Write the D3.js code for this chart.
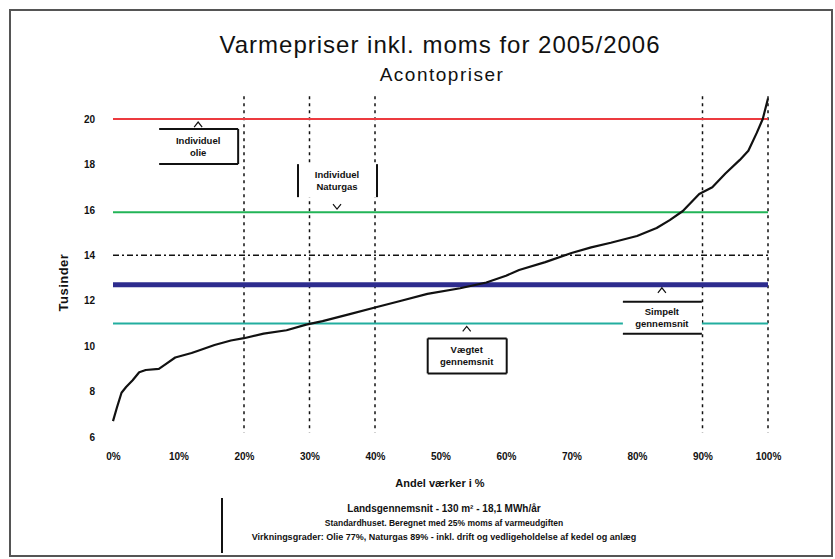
<!DOCTYPE html>
<html>
<head>
<meta charset="utf-8">
<script src="https://cdn.jsdelivr.net/npm/d3@7"></script>
<style>
  body { margin: 0; background: #fff; }
  text { font-family: "Liberation Sans", Arial, sans-serif; fill: #111; }
</style>
</head>
<body>
<script>
// Step 1: chart data
//= ================================
// share of plants (%) and price in thousand kr
var sharePct = [0, 0.6, 1.3, 2, 3, 4, 5, 7, 8, 9.5, 12, 13, 15.5, 18, 20, 23, 26.5, 29.5,
  32, 36, 40, 44, 48, 53, 57, 60, 62, 66, 70, 73, 76, 80, 83, 85, 87, 89.5, 91.5,
  93.5, 95.7, 97, 98.3, 99.2, 100];
var priceK = [6.7, 7.3, 7.95, 8.2, 8.5, 8.85, 8.95, 9.0, 9.2, 9.5, 9.7, 9.8, 10.05, 10.25,
  10.35, 10.55, 10.7, 10.95, 11.1, 11.4, 11.7, 12.0, 12.3, 12.55, 12.8, 13.1, 13.35,
  13.7, 14.1, 14.35, 14.55, 14.85, 15.2, 15.55, 15.95, 16.7, 17.0, 17.6, 18.2, 18.6,
  19.4, 20.0, 20.9];

var yTicks = [6, 8, 10, 12, 14, 16, 18, 20];
var xTicks = [0, 10, 20, 30, 40, 50, 60, 70, 80, 90, 100];
var markerPcts = [20, 30, 40, 90, 100];

var refNames = ["Individuel olie", "Individuel Naturgas", "Simpelt gennemsnit", "Vægtet gennemsnit"];
var refValues = [20.0, 15.9, 12.7, 11.0];
var refColors = ["#ec3a3f", "#22b457", "#2d2c8e", "#22ae9f"];
var refWidths = [2, 2, 5, 2];
var refLabelPct = [13, 34.2, 83.8, 54];
var dashDotValue = 14;

var footerLines = [
  "Landsgennemsnit - 130 m² - 18,1 MWh/år",
  "Standardhuset. Beregnet med 25% moms af varmeudgiften",
  "Virkningsgrader: Olie 77%, Naturgas 89% - inkl. drift og vedligeholdelse af kedel og anlæg"
];

// Step 2: svg + scales
//= ================================
var svgWidth = 835;
var svgHeight = 559;

var svg = d3.select("body")
  .append("svg")
  .attr("width", svgWidth)
  .attr("height", svgHeight);

// outer frame
svg.append("rect")
  .attr("x", 10).attr("y", 10)
  .attr("width", 822).attr("height", 546)
  .attr("fill", "none")
  .attr("stroke", "#555")
  .attr("stroke-width", 2);

var xScale = d3.scaleLinear().domain([0, 100]).range([113, 768]);
var yScale = d3.scaleLinear().domain([6, 21]).range([437, 96.3]);

// Step 3: titles
//= ================================
svg.append("text")
  .attr("x", 440).attr("y", 53)
  .attr("text-anchor", "middle")
  .style("font-size", "24px")
  .style("letter-spacing", "1px")
  .text("Varmepriser inkl. moms for 2005/2006");

svg.append("text")
  .attr("x", 442).attr("y", 81)
  .attr("text-anchor", "middle")
  .style("font-size", "19px")
  .style("letter-spacing", "1.5px")
  .text("Acontopriser");

// Step 4: axes (labels only)
//= ================================
var yAxis = d3.axisLeft(yScale).tickValues(yTicks).tickSize(0).tickPadding(0);
svg.append("g")
  .attr("transform", "translate(95,0)")
  .call(yAxis)
  .call(g => g.select(".domain").remove())
  .selectAll("text")
  .style("font-family", "Liberation Sans, Arial, sans-serif")
  .style("font-size", "10px")
  .style("font-weight", "bold")
  .attr("fill", "#111");

var xAxis = d3.axisBottom(xScale).tickValues(xTicks).tickSize(0).tickPadding(0)
  .tickFormat(d => d + "%");
svg.append("g")
  .attr("transform", "translate(0,453)")
  .call(xAxis)
  .call(g => g.select(".domain").remove())
  .selectAll("text")
  .style("font-family", "Liberation Sans, Arial, sans-serif")
  .style("font-size", "10px")
  .style("font-weight", "bold")
  .attr("fill", "#111");

svg.append("text")
  .attr("transform", "translate(68," + yScale(12.8) + ") rotate(-90)")
  .attr("text-anchor", "middle")
  .style("font-size", "13px")
  .style("font-weight", "bold")
  .style("letter-spacing", "0.5px")
  .text("Tusinder");

svg.append("text")
  .attr("x", 440).attr("y", 487)
  .attr("text-anchor", "middle")
  .style("font-size", "11px")
  .style("font-weight", "bold")
  .text("Andel værker i %");

// Step 5: grid-ish marker lines
//= ================================
svg.selectAll(".marker")
  .data(markerPcts)
  .enter()
  .append("line")
  .attr("x1", d => xScale(d)).attr("x2", d => xScale(d))
  .attr("y1", yScale(21)).attr("y2", yScale(6.2))
  .attr("stroke", "#111")
  .attr("stroke-width", 1.5)
  .attr("stroke-dasharray", "3,4");

svg.append("line")
  .attr("x1", xScale(0)).attr("x2", xScale(100))
  .attr("y1", yScale(dashDotValue)).attr("y2", yScale(dashDotValue))
  .attr("stroke", "#111")
  .attr("stroke-width", 1.5)
  .attr("stroke-dasharray", "6,3,2,3");

// reference lines
svg.selectAll(".ref")
  .data(refValues)
  .enter()
  .append("line")
  .attr("x1", xScale(0)).attr("x2", xScale(100))
  .attr("y1", d => yScale(d)).attr("y2", d => yScale(d))
  .attr("stroke", (d, i) => refColors[i])
  .attr("stroke-width", (d, i) => refWidths[i]);

// Step 6: the price curve
//= ================================
var points = sharePct.map((p, i) => [p, priceK[i]]);
var line = d3.line()
  .x(d => xScale(d[0]))
  .y(d => yScale(d[1]));

svg.append("path")
  .datum(points)
  .attr("d", line)
  .attr("fill", "none")
  .attr("stroke", "#111")
  .attr("stroke-width", 2.2)
  .attr("stroke-linejoin", "round");

// Step 7: callout boxes
//= ================================
// dir: 1 = box below the line, -1 = box above the line
var callouts = [
  { idx: 0, dir: 1, gap: 10, h: 35, sides: "tbr" },
  { idx: 1, dir: -1, gap: 15, h: 33, sides: "lr" },
  { idx: 2, dir: 1, gap: 17, h: 32, sides: "tb" },
  { idx: 3, dir: 1, gap: 15, h: 35, sides: "tblr" }
];

callouts.forEach(function(c) {
  var cx = xScale(refLabelPct[c.idx]);
  var ly = yScale(refValues[c.idx]);
  var x0 = cx - 39, x1 = cx + 40;
  var top = c.dir > 0 ? ly + c.gap : ly - c.gap - c.h;
  var bot = top + c.h;
  var g = svg.append("g");

  g.append("rect")
    .attr("x", x0).attr("y", top)
    .attr("width", x1 - x0).attr("height", c.h)
    .attr("fill", "#fff");

  var edge = function(a, b, d, e) {
    g.append("line").attr("x1", a).attr("y1", b).attr("x2", d).attr("y2", e)
      .attr("stroke", "#111").attr("stroke-width", 2);
  };
  if (c.sides.indexOf("t") > -1) edge(x0, top, x1, top);
  if (c.sides.indexOf("b") > -1) edge(x0, bot, x1, bot);
  if (c.sides.indexOf("l") > -1) edge(x0, top, x0, bot);
  if (c.sides.indexOf("r") > -1) edge(x1, top, x1, bot);

  // little arrow head pointing at the line
  var tip = ly + c.dir * 3;
  var base = ly + c.dir * 8;
  g.append("path")
    .attr("d", "M" + (cx - 4) + "," + base + "L" + cx + "," + tip + "L" + (cx + 4) + "," + base)
    .attr("fill", "none")
    .attr("stroke", "#111")
    .attr("stroke-width", 1.2);

  var words = refNames[c.idx].split(" ");
  g.selectAll("text")
    .data(words)
    .enter()
    .append("text")
    .attr("x", cx)
    .attr("y", (d, i) => top + c.h / 2 - 3 + i * 12)
    .attr("text-anchor", "middle")
    .style("font-size", "9.5px")
    .style("font-weight", "bold")
    .text(d => d);
});

// Step 8: footer
//= ================================
svg.append("line")
  .attr("x1", 222).attr("x2", 222)
  .attr("y1", 498).attr("y2", 553)
  .attr("stroke", "#111")
  .attr("stroke-width", 2);

var footSizes = [10, 8.5, 9];
svg.selectAll(".foot")
  .data(footerLines)
  .enter()
  .append("text")
  .attr("x", 444)
  .attr("y", (d, i) => 512 + i * 14)
  .attr("text-anchor", "middle")
  .style("font-size", (d, i) => footSizes[i] + "px")
  .style("font-weight", "bold")
  .text(d => d);
</script>
</body>
</html>
